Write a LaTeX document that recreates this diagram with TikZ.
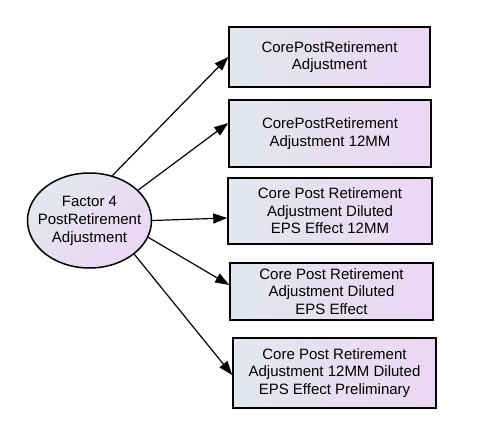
\documentclass[tikz,border=0pt]{standalone}
\usepackage{fontspec}
\setmainfont{Liberation Sans}
\usetikzlibrary{arrows.meta, positioning, shapes.geometric}

\definecolor{fillL}{RGB}{226,232,238}
\definecolor{fillR}{RGB}{236,214,244}

\begin{document}
\begin{tikzpicture}[x=1pt, y=-1pt,
    factor/.style={ellipse, draw, line width=1.5pt, left color=fillL, right color=fillR, shading angle=45,
        minimum width=124pt, minimum height=95pt, inner xsep=-10pt, inner ysep=0pt, align=center,
        font=\fontsize{15}{18}\selectfont},
    measure/.style={rectangle, draw, line width=1.5pt, left color=fillL, right color=fillR,
        inner sep=0pt, align=center, font=\fontsize{15}{17.5}\selectfont},
    link/.style={-{Triangle[length=14pt, width=10pt]}, line width=1.2pt}]
    \useasboundingbox (0,0) rectangle (484,447);

    % Source factor
    \node[factor] (fac) at (89.5,220.5) {Factor 4\\PostRetirement\\Adjustment};

    % Derived measures
    \node[measure, minimum width=201pt, minimum height=60pt] (core1) at (329.5,57) {CorePostRetirement\\Adjustment};
    \node[measure, minimum width=202pt, minimum height=67pt] (core2) at (330,133.5) {CorePostRetirement\\Adjustment 12MM};
    \node[measure, minimum width=204pt, minimum height=66pt] (core3) at (330,211) {Core Post Retirement\\Adjustment Diluted\\EPS Effect 12MM};
    \node[measure, minimum width=203pt, minimum height=57pt] (core4) at (331.5,291.5) {Core Post Retirement\\Adjustment Diluted\\EPS Effect};
    \node[measure, minimum width=203pt, minimum height=70pt] (core5) at (334.5,373) {Core Post Retirement\\Adjustment 12MM Diluted\\EPS Effect Preliminary};

    % Links
    \foreach \a/\b/\s in {63/core1/0, 32/core2/10.5, 0/core3/-7, 344/core4/6.5, 323/core5/-2}
    \draw[link] (fac.\a) -- ([yshift=\s pt]\b.west);
\end{tikzpicture}
\end{document}
